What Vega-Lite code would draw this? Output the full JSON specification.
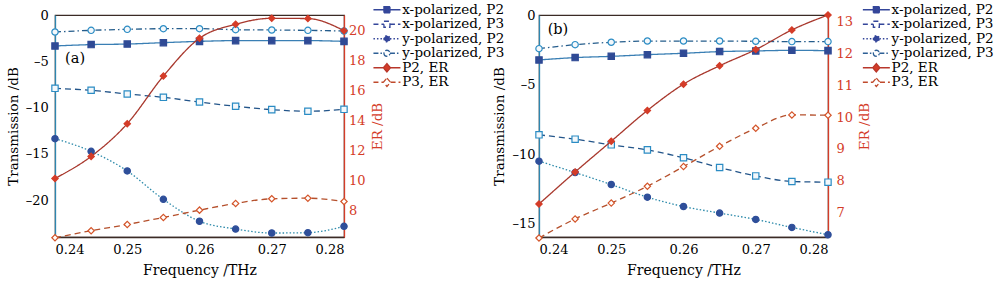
{
"$schema":"https://vega.github.io/schema/vega-lite/v6.json",
"background":"white",
"padding":{"left":5,"top":2,"right":0,"bottom":0},
"spacing":-14,
"config":{
 "view":{"stroke":"#3b2b25","strokeWidth":1.2},
 "axis":{"grid":false,"labelFont":"DejaVu Serif","titleFont":"DejaVu Serif","titleFontWeight":"normal","labelColor":"black","titleColor":"black","labelFontSize":13,"titleFontSize":13.5,"ticks":false,"tickSize":0,"domainWidth":1.3,"offset":0}
},
"datasets":{
 "a":[
  {"f":0.24,"x-polarized, P2":-3.35,"x-polarized, P3":-7.93,"y-polarized, P2":-13.37,"y-polarized, P3":-1.84,"P2, ER":10.12,"P3, ER":6.15},
  {"f":0.245,"x-polarized, P2":-3.2,"x-polarized, P3":-8.14,"y-polarized, P2":-14.74,"y-polarized, P3":-1.66,"P2, ER":11.6,"P3, ER":6.62},
  {"f":0.25,"x-polarized, P2":-3.14,"x-polarized, P3":-8.54,"y-polarized, P2":-16.86,"y-polarized, P3":-1.55,"P2, ER":13.79,"P3, ER":7.04},
  {"f":0.255,"x-polarized, P2":-2.99,"x-polarized, P3":-8.9,"y-polarized, P2":-19.93,"y-polarized, P3":-1.48,"P2, ER":16.98,"P3, ER":7.51},
  {"f":0.26,"x-polarized, P2":-2.85,"x-polarized, P3":-9.41,"y-polarized, P2":-22.3,"y-polarized, P3":-1.48,"P2, ER":19.51,"P3, ER":8.0},
  {"f":0.265,"x-polarized, P2":-2.77,"x-polarized, P3":-9.87,"y-polarized, P2":-23.14,"y-polarized, P3":-1.59,"P2, ER":20.45,"P3, ER":8.45},
  {"f":0.27,"x-polarized, P2":-2.77,"x-polarized, P3":-10.23,"y-polarized, P2":-23.57,"y-polarized, P3":-1.62,"P2, ER":20.85,"P3, ER":8.76},
  {"f":0.275,"x-polarized, P2":-2.77,"x-polarized, P3":-10.41,"y-polarized, P2":-23.53,"y-polarized, P3":-1.66,"P2, ER":20.83,"P3, ER":8.8},
  {"f":0.28,"x-polarized, P2":-2.85,"x-polarized, P3":-10.2,"y-polarized, P2":-22.85,"y-polarized, P3":-1.73,"P2, ER":20.02,"P3, ER":8.58}
 ],
 "b":[
  {"f":0.24,"x-polarized, P2":-3.23,"x-polarized, P3":-8.61,"y-polarized, P2":-10.5,"y-polarized, P3":-2.42,"P2, ER":7.26,"P3, ER":6.19},
  {"f":0.245,"x-polarized, P2":-3.06,"x-polarized, P3":-8.92,"y-polarized, P2":-11.32,"y-polarized, P3":-2.13,"P2, ER":8.27,"P3, ER":6.79},
  {"f":0.25,"x-polarized, P2":-2.97,"x-polarized, P3":-9.33,"y-polarized, P2":-12.18,"y-polarized, P3":-1.96,"P2, ER":9.24,"P3, ER":7.29},
  {"f":0.255,"x-polarized, P2":-2.85,"x-polarized, P3":-9.69,"y-polarized, P2":-13.09,"y-polarized, P3":-1.87,"P2, ER":10.21,"P3, ER":7.82},
  {"f":0.26,"x-polarized, P2":-2.75,"x-polarized, P3":-10.26,"y-polarized, P2":-13.76,"y-polarized, P3":-1.87,"P2, ER":11.04,"P3, ER":8.44},
  {"f":0.265,"x-polarized, P2":-2.63,"x-polarized, P3":-10.96,"y-polarized, P2":-14.23,"y-polarized, P3":-1.87,"P2, ER":11.62,"P3, ER":9.08},
  {"f":0.27,"x-polarized, P2":-2.58,"x-polarized, P3":-11.56,"y-polarized, P2":-14.69,"y-polarized, P3":-1.89,"P2, ER":12.13,"P3, ER":9.65},
  {"f":0.275,"x-polarized, P2":-2.54,"x-polarized, P3":-11.96,"y-polarized, P2":-15.26,"y-polarized, P3":-1.91,"P2, ER":12.75,"P3, ER":10.07},
  {"f":0.28,"x-polarized, P2":-2.56,"x-polarized, P3":-12.01,"y-polarized, P2":-15.79,"y-polarized, P3":-1.91,"P2, ER":13.22,"P3, ER":10.06}
 ]
},
"hconcat":[
 {
  "data":{"name":"a"},
  "width":289,"height":222,
  "layer":[
   {
    "transform":[{"fold":["x-polarized, P2","x-polarized, P3","y-polarized, P2","y-polarized, P3"],"as":["s","v"]}],
    "encoding":{
     "x":{"field":"f","type":"quantitative","scale":{"domain":[0.24,0.28],"nice":false,"zero":false},"axis":{"values":[0.24,0.25,0.26,0.27,0.28],"format":".2f","title":"Frequency /THz","titleFontSize":14,"labelPadding":6.5,"titlePadding":7,"domainColor":"#3b2b25"}},
     "y":{"field":"v","type":"quantitative","scale":{"domain":[-24,0],"nice":false,"zero":false},"axis":{"orient":"left","values":[-20,-15,-10,-5,0],"labelExpr":"datum.value < 0 ? '–' + format(-datum.value, 'd') : format(datum.value, 'd')","title":"Transmission /dB","labelPadding":6.6,"titlePadding":5,"domainColor":"#2e86b0"}}
    },
    "layer":[
     {"mark":{"type":"line","interpolate":"monotone","strokeWidth":1.3},
      "encoding":{
       "stroke":{"field":"s","type":"nominal","scale":{"domain":["x-polarized, P2","x-polarized, P3","y-polarized, P2","y-polarized, P3"],"range":["#3a7fb4","#23558a","#2e8bab","#255d8c"]},"legend":null},
       "strokeDash":{"field":"s","type":"nominal","scale":{"domain":["x-polarized, P2","x-polarized, P3","y-polarized, P2","y-polarized, P3"],"range":[[1,0],[6,4],[1.5,2],[6,3,1.5,3]]},"legend":null}
      }},
     {"mark":{"type":"point","filled":true,"size":40,"strokeWidth":1.2,"opacity":1},
      "encoding":{
       "shape":{"field":"s","type":"nominal","scale":{"domain":["x-polarized, P2","x-polarized, P3","y-polarized, P2","y-polarized, P3"],"range":["square","square","circle","circle"]},"legend":null},
       "color":{"field":"s","type":"nominal","scale":{"domain":["x-polarized, P2","x-polarized, P3","y-polarized, P2","y-polarized, P3"],"range":["#2f4a95","#f4f8fb","#2f4f9a","#f4f8fb"]},"legend":null},
       "stroke":{"field":"s","type":"nominal","scale":{"domain":["x-polarized, P2","x-polarized, P3","y-polarized, P2","y-polarized, P3"],"range":["#2f4a95","#2b8cc4","#2f4f9a","#2b8cc4"]},"legend":null}
      }}
    ],
    "resolve":{"scale":{"stroke":"independent"}}
   },
   {
    "transform":[{"fold":["P2, ER","P3, ER"],"as":["s","v"]}],
    "encoding":{
     "x":{"field":"f","type":"quantitative","scale":{"domain":[0.24,0.28],"nice":false,"zero":false}},
     "y":{"field":"v","type":"quantitative","scale":{"domain":[6.2,21.07],"nice":false,"zero":false},"axis":{"orient":"right","values":[8,10,12,14,16,18,20],"title":"ER /dB","titleAngle":270,"titleBaseline":"top","labelPadding":4.4,"titlePadding":6,"domainColor":"#d43c28","labelColor":"#d43c28","titleColor":"#d43c28"}}
    },
    "layer":[
     {"mark":{"type":"line","interpolate":"monotone","strokeWidth":1.3},
      "encoding":{
       "stroke":{"field":"s","type":"nominal","scale":{"domain":["P2, ER","P3, ER"],"range":["#a8372c","#b5502c"]},"legend":null},
       "strokeDash":{"field":"s","type":"nominal","scale":{"domain":["P2, ER","P3, ER"],"range":[[1,0],[6,4]]},"legend":null}
      }},
     {"mark":{"type":"point","filled":true,"size":40,"strokeWidth":1.2,"opacity":1},
      "encoding":{
       "shape":{"field":"s","type":"nominal","scale":{"domain":["P2, ER","P3, ER"],"range":["diamond","diamond"]},"legend":null},
       "color":{"field":"s","type":"nominal","scale":{"domain":["P2, ER","P3, ER"],"range":["#d43c28","#ffffff"]},"legend":null},
       "stroke":{"field":"s","type":"nominal","scale":{"domain":["P2, ER","P3, ER"],"range":["#d43c28","#d4552a"]},"legend":null}
      }}
    ],
    "resolve":{"scale":{"stroke":"independent"}}
   },
   {
    "data":{"values":[{"t":"(a)"}]},
    "mark":{"type":"text","align":"left","baseline":"middle","font":"DejaVu Serif","fontSize":14.5,"color":"black"},
    "encoding":{
     "x":{"datum":0.2414,"type":"quantitative","scale":{"domain":[0.24,0.28],"nice":false,"zero":false}},
     "y":{"datum":-4.76,"type":"quantitative","scale":{"domain":[-24,0]},"axis":null},
     "text":{"field":"t"}
    }
   },
   {
    "transform":[{"filter":"false"}],
    "mark":{"type":"point","filled":true,"size":36,"strokeWidth":1.3,"opacity":1},
    "encoding":{
     "x":{"field":"f","type":"quantitative","scale":{"domain":[0.24,0.28],"nice":false,"zero":false}},
     "y":{"field":"f","type":"quantitative","scale":{"domain":[0,1]},"axis":null},
     "shape":{"field":"s","type":"nominal","scale":{"domain":["x-polarized, P2","x-polarized, P3","y-polarized, P2","y-polarized, P3","P2, ER","P3, ER"],"range":["M-4.5,0H-1M1,0H4.5M-1,-1H1V1H-1Z","M-4.5,0H-1M1,0H4.5M-1,-1H1V1H-1Z","M-4.5,0H-1M1,0H4.5M-1,0A1,1,0,1,0,1,0A1,1,0,1,0,-1,0Z","M-4.5,0H-1M1,0H4.5M-1,0A1,1,0,1,0,1,0A1,1,0,1,0,-1,0Z","M-4.5,0H-1.2M1.2,0H4.5M0,-1.4L1.2,0L0,1.4L-1.2,0Z","M-4.5,0H-1.2M1.2,0H4.5M0,-1.4L1.2,0L0,1.4L-1.2,0Z"]},
      "legend":{"title":null,"orient":"none","legendX":325.2,"legendY":-12,"symbolSize":36,"symbolStrokeWidth":1.3,"labelFont":"DejaVu Serif","labelFontSize":13.5,"labelColor":"black","labelOffset":8.5,"rowPadding":-0.5,"padding":0,"labelLimit":200}},
     "color":{"field":"s","type":"nominal","scale":{"domain":["x-polarized, P2","x-polarized, P3","y-polarized, P2","y-polarized, P3","P2, ER","P3, ER"],"range":["#34469a","#ffffff","#34469a","#ffffff","#d43c28","#ffffff"]},
      "legend":{"title":null,"orient":"none","legendX":325.2,"legendY":-12,"symbolSize":36,"symbolStrokeWidth":1.3,"labelFont":"DejaVu Serif","labelFontSize":13.5,"labelColor":"black","labelOffset":8.5,"rowPadding":-0.5,"padding":0,"labelLimit":200}},
     "stroke":{"field":"s","type":"nominal","scale":{"domain":["x-polarized, P2","x-polarized, P3","y-polarized, P2","y-polarized, P3","P2, ER","P3, ER"],"range":["#34469a","#34469a","#34469a","#2d5f95","#b8362a","#c04a2c"]},
      "legend":{"title":null,"orient":"none","legendX":325.2,"legendY":-12,"symbolSize":36,"symbolStrokeWidth":1.3,"labelFont":"DejaVu Serif","labelFontSize":13.5,"labelColor":"black","labelOffset":8.5,"rowPadding":-0.5,"padding":0,"labelLimit":200}},
     "strokeDash":{"field":"s","type":"nominal","scale":{"domain":["x-polarized, P2","x-polarized, P3","y-polarized, P2","y-polarized, P3","P2, ER","P3, ER"],"range":[[1,0],[5,3],[1.5,2],[5,2,1.5,2],[1,0],[5,3]]},
      "legend":{"title":null,"orient":"none","legendX":325.2,"legendY":-12,"symbolSize":36,"symbolStrokeWidth":1.3,"labelFont":"DejaVu Serif","labelFontSize":13.5,"labelColor":"black","labelOffset":8.5,"rowPadding":-0.5,"padding":0,"labelLimit":200}}
    }
   }
  ],
  "resolve":{"scale":{"y":"independent","stroke":"independent","strokeDash":"independent","color":"independent","shape":"independent"}}
 },
 {
  "data":{"name":"b"},
  "width":289,"height":222,
  "layer":[
   {
    "transform":[{"fold":["x-polarized, P2","x-polarized, P3","y-polarized, P2","y-polarized, P3"],"as":["s","v"]}],
    "encoding":{
     "x":{"field":"f","type":"quantitative","scale":{"domain":[0.24,0.28],"nice":false,"zero":false},"axis":{"values":[0.24,0.25,0.26,0.27,0.28],"format":".2f","title":"Frequency /THz","titleFontSize":14,"labelPadding":6.5,"titlePadding":7,"domainColor":"#3b2b25"}},
     "y":{"field":"v","type":"quantitative","scale":{"domain":[-15.95,0],"nice":false,"zero":false},"axis":{"orient":"left","values":[-15,-10,-5,0],"labelExpr":"datum.value < 0 ? '–' + format(-datum.value, 'd') : format(datum.value, 'd')","title":"Transmission /dB","labelPadding":4,"titlePadding":5,"domainColor":"#2e86b0"}}
    },
    "layer":[
     {"mark":{"type":"line","interpolate":"monotone","strokeWidth":1.3},
      "encoding":{
       "stroke":{"field":"s","type":"nominal","scale":{"domain":["x-polarized, P2","x-polarized, P3","y-polarized, P2","y-polarized, P3"],"range":["#3a7fb4","#23558a","#2e8bab","#255d8c"]},"legend":null},
       "strokeDash":{"field":"s","type":"nominal","scale":{"domain":["x-polarized, P2","x-polarized, P3","y-polarized, P2","y-polarized, P3"],"range":[[1,0],[6,4],[1.5,2],[6,3,1.5,3]]},"legend":null}
      }},
     {"mark":{"type":"point","filled":true,"size":40,"strokeWidth":1.2,"opacity":1},
      "encoding":{
       "shape":{"field":"s","type":"nominal","scale":{"domain":["x-polarized, P2","x-polarized, P3","y-polarized, P2","y-polarized, P3"],"range":["square","square","circle","circle"]},"legend":null},
       "color":{"field":"s","type":"nominal","scale":{"domain":["x-polarized, P2","x-polarized, P3","y-polarized, P2","y-polarized, P3"],"range":["#2f4a95","#f4f8fb","#2f4f9a","#f4f8fb"]},"legend":null},
       "stroke":{"field":"s","type":"nominal","scale":{"domain":["x-polarized, P2","x-polarized, P3","y-polarized, P2","y-polarized, P3"],"range":["#2f4a95","#2b8cc4","#2f4f9a","#2b8cc4"]},"legend":null}
      }}
    ],
    "resolve":{"scale":{"stroke":"independent"}}
   },
   {
    "transform":[{"fold":["P2, ER","P3, ER"],"as":["s","v"]}],
    "encoding":{
     "x":{"field":"f","type":"quantitative","scale":{"domain":[0.24,0.28],"nice":false,"zero":false}},
     "y":{"field":"v","type":"quantitative","scale":{"domain":[6.22,13.22],"nice":false,"zero":false},"axis":{"orient":"right","values":[7,8,9,10,11,12,13],"title":"ER /dB","titleAngle":270,"titleBaseline":"top","labelPadding":8,"titlePadding":5,"domainColor":"#d43c28","labelColor":"#d43c28","titleColor":"#d43c28"}}
    },
    "layer":[
     {"mark":{"type":"line","interpolate":"monotone","strokeWidth":1.3},
      "encoding":{
       "stroke":{"field":"s","type":"nominal","scale":{"domain":["P2, ER","P3, ER"],"range":["#a8372c","#b5502c"]},"legend":null},
       "strokeDash":{"field":"s","type":"nominal","scale":{"domain":["P2, ER","P3, ER"],"range":[[1,0],[6,4]]},"legend":null}
      }},
     {"mark":{"type":"point","filled":true,"size":40,"strokeWidth":1.2,"opacity":1},
      "encoding":{
       "shape":{"field":"s","type":"nominal","scale":{"domain":["P2, ER","P3, ER"],"range":["diamond","diamond"]},"legend":null},
       "color":{"field":"s","type":"nominal","scale":{"domain":["P2, ER","P3, ER"],"range":["#d43c28","#ffffff"]},"legend":null},
       "stroke":{"field":"s","type":"nominal","scale":{"domain":["P2, ER","P3, ER"],"range":["#d43c28","#d4552a"]},"legend":null}
      }}
    ],
    "resolve":{"scale":{"stroke":"independent"}}
   },
   {
    "data":{"values":[{"t":"(b)"}]},
    "mark":{"type":"text","align":"left","baseline":"middle","font":"DejaVu Serif","fontSize":14.5,"color":"black"},
    "encoding":{
     "x":{"datum":0.2412,"type":"quantitative","scale":{"domain":[0.24,0.28],"nice":false,"zero":false}},
     "y":{"datum":-1.08,"type":"quantitative","scale":{"domain":[-15.95,0]},"axis":null},
     "text":{"field":"t"}
    }
   },
   {
    "transform":[{"filter":"false"}],
    "mark":{"type":"point","filled":true,"size":36,"strokeWidth":1.3,"opacity":1},
    "encoding":{
     "x":{"field":"f","type":"quantitative","scale":{"domain":[0.24,0.28],"nice":false,"zero":false}},
     "y":{"field":"f","type":"quantitative","scale":{"domain":[0,1]},"axis":null},
     "shape":{"field":"s","type":"nominal","scale":{"domain":["x-polarized, P2","x-polarized, P3","y-polarized, P2","y-polarized, P3","P2, ER","P3, ER"],"range":["M-4.5,0H-1M1,0H4.5M-1,-1H1V1H-1Z","M-4.5,0H-1M1,0H4.5M-1,-1H1V1H-1Z","M-4.5,0H-1M1,0H4.5M-1,0A1,1,0,1,0,1,0A1,1,0,1,0,-1,0Z","M-4.5,0H-1M1,0H4.5M-1,0A1,1,0,1,0,1,0A1,1,0,1,0,-1,0Z","M-4.5,0H-1.2M1.2,0H4.5M0,-1.4L1.2,0L0,1.4L-1.2,0Z","M-4.5,0H-1.2M1.2,0H4.5M0,-1.4L1.2,0L0,1.4L-1.2,0Z"]},
      "legend":{"title":null,"orient":"none","legendX":330.6,"legendY":-12,"symbolSize":36,"symbolStrokeWidth":1.3,"labelFont":"DejaVu Serif","labelFontSize":13.5,"labelColor":"black","labelOffset":8.5,"rowPadding":-0.5,"padding":0,"labelLimit":200}},
     "color":{"field":"s","type":"nominal","scale":{"domain":["x-polarized, P2","x-polarized, P3","y-polarized, P2","y-polarized, P3","P2, ER","P3, ER"],"range":["#34469a","#ffffff","#34469a","#ffffff","#d43c28","#ffffff"]},
      "legend":{"title":null,"orient":"none","legendX":330.6,"legendY":-12,"symbolSize":36,"symbolStrokeWidth":1.3,"labelFont":"DejaVu Serif","labelFontSize":13.5,"labelColor":"black","labelOffset":8.5,"rowPadding":-0.5,"padding":0,"labelLimit":200}},
     "stroke":{"field":"s","type":"nominal","scale":{"domain":["x-polarized, P2","x-polarized, P3","y-polarized, P2","y-polarized, P3","P2, ER","P3, ER"],"range":["#34469a","#34469a","#34469a","#2d5f95","#b8362a","#c04a2c"]},
      "legend":{"title":null,"orient":"none","legendX":330.6,"legendY":-12,"symbolSize":36,"symbolStrokeWidth":1.3,"labelFont":"DejaVu Serif","labelFontSize":13.5,"labelColor":"black","labelOffset":8.5,"rowPadding":-0.5,"padding":0,"labelLimit":200}},
     "strokeDash":{"field":"s","type":"nominal","scale":{"domain":["x-polarized, P2","x-polarized, P3","y-polarized, P2","y-polarized, P3","P2, ER","P3, ER"],"range":[[1,0],[5,3],[1.5,2],[5,2,1.5,2],[1,0],[5,3]]},
      "legend":{"title":null,"orient":"none","legendX":330.6,"legendY":-12,"symbolSize":36,"symbolStrokeWidth":1.3,"labelFont":"DejaVu Serif","labelFontSize":13.5,"labelColor":"black","labelOffset":8.5,"rowPadding":-0.5,"padding":0,"labelLimit":200}}
    }
   }
  ],
  "resolve":{"scale":{"y":"independent","stroke":"independent","strokeDash":"independent","color":"independent","shape":"independent"}}
 }
]
}
